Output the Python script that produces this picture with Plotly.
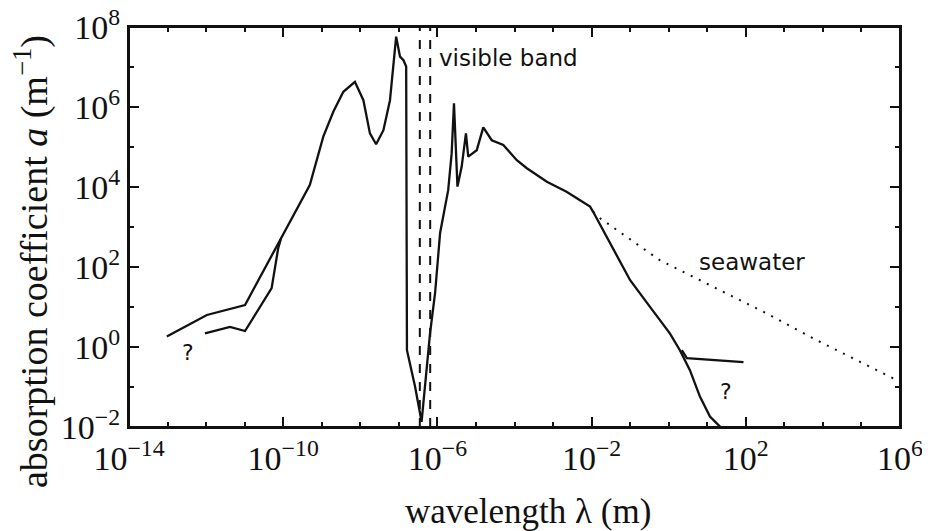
import numpy as np
import plotly.graph_objects as go

# ---- data (log10 values) ----
main_logx = [-13.02, -11.98, -10.99, -10.04, -9.31, -8.96, -8.70, -8.44, -8.14, -7.92,
             -7.75, -7.59, -7.40, -7.23, -7.07, -6.97, -6.88, -6.81, -6.79, -6.58,
             -6.41, -6.19, -6.06, -5.93, -5.85, -5.72, -5.63, -5.57, -5.48, -5.37,
             -5.26, -5.20, -4.98, -4.81, -4.59, -4.29, -3.94, -3.68, -3.16, -2.65,
             -2.30, -2.04, -1.96, -1.52, -1.00, -0.49, 0.03, 0.29, 0.55, 0.81,
             1.07, 1.33, 1.36]
main_logy = [0.26, 0.80, 1.05, 2.73, 4.05, 5.26, 5.88, 6.38, 6.63, 6.17,
             5.34, 5.07, 5.42, 6.17, 7.76, 7.26, 7.17, 7.01, -0.08, -0.99,
             -1.87, 0.35, 1.35, 2.85, 3.26, 3.92, 4.84, 6.09, 4.01, 4.51,
             5.34, 4.76, 4.92, 5.49, 5.17, 5.05, 4.67, 4.47, 4.13, 3.88,
             3.67, 3.51, 3.38, 2.59, 1.67, 1.01, 0.34, -0.08, -0.58, -1.24,
             -1.74, -1.99, -2.0]

lowleft_logx = [-12.03, -11.38, -10.99, -10.30, -10.13, -10.06]
lowleft_logy = [0.34, 0.50, 0.40, 1.47, 2.47, 2.70]

radio_logx = [0.34, 0.47, 1.94]
radio_logy = [-0.08, -0.28, -0.38]

sea_logx = [-1.96, -1.78, -0.23, 0.99, 2.54, 3.84, 5.22, 6.0]
sea_logy = [3.38, 3.22, 2.17, 1.59, 0.84, 0.17, -0.49, -0.87]

visible_band = [3.5e-7, 6.5e-7]   # wavelength limits (m)
y_span = [1e-2, 1e8]

x_major = [1e-14, 1e-10, 1e-6, 1e-2, 1e2, 1e6]
x_major_text = ["10<sup>−14</sup>", "10<sup>−10</sup>", "10<sup>−6</sup>",
                "10<sup>−2</sup>", "10<sup>2</sup>", "10<sup>6</sup>"]
y_major = [1e-2, 1e0, 1e2, 1e4, 1e6, 1e8]
y_major_text = ["10<sup>−2</sup>", "10<sup>0</sup>", "10<sup>2</sup>",
                "10<sup>4</sup>", "10<sup>6</sup>", "10<sup>8</sup>"]
x_minor = [10.0 ** k for k in range(-14, 7)]
y_minor = [10.0 ** k for k in range(-2, 9)]

def p10(a):
    return [10.0 ** v for v in a]

INK = "#111111"
fig = go.Figure()

fig.add_trace(go.Scatter(x=[visible_band[0], visible_band[0]], y=y_span, mode="lines",
                         line=dict(color=INK, width=2, dash="9px,9px"), hoverinfo="skip"))
fig.add_trace(go.Scatter(x=[visible_band[1], visible_band[1]], y=y_span, mode="lines",
                         line=dict(color=INK, width=2, dash="9px,9px"), hoverinfo="skip"))
fig.add_trace(go.Scatter(x=p10(sea_logx), y=p10(sea_logy), mode="lines",
                         line=dict(color=INK, width=2, dash="2px,7px")))
fig.add_trace(go.Scatter(x=p10(main_logx), y=p10(main_logy), mode="lines",
                         line=dict(color=INK, width=2.3)))
fig.add_trace(go.Scatter(x=p10(lowleft_logx), y=p10(lowleft_logy), mode="lines",
                         line=dict(color=INK, width=2.3)))
fig.add_trace(go.Scatter(x=p10(radio_logx), y=p10(radio_logy), mode="lines",
                         line=dict(color=INK, width=2.3)))

serif = "Liberation Serif"
sans = "DejaVu Sans"

axis_common = dict(
    type="log", showgrid=False, zeroline=False, automargin=False,
    showline=True, linecolor=INK, linewidth=2, mirror="ticks",
    ticks="inside", ticklen=10, tickwidth=1.5, tickcolor=INK,
    ticklabeloverflow="allow",
    tickfont=dict(family=serif, size=34, color=INK),
)

# the page body adds an 8px offset; margins are shifted to compensate
fig.update_layout(
    width=930, height=531,
    margin=dict(l=121, r=38, t=19, b=112),
    paper_bgcolor="white", plot_bgcolor="white",
    showlegend=False,
    xaxis=dict(range=[-14, 6], tickmode="array", tickvals=x_major, ticktext=x_major_text,
               minor=dict(tickmode="array", tickvals=x_minor, ticks="inside", ticklen=5,
                          tickwidth=1.5, tickcolor=INK),
               **axis_common),
    yaxis=dict(range=[-2, 8], tickmode="array", tickvals=y_major, ticktext=y_major_text,
               minor=dict(tickmode="array", tickvals=y_minor, ticks="inside", ticklen=5,
                          tickwidth=1.5, tickcolor=INK),
               **axis_common),
    shapes=[dict(type="rect", xref="paper", yref="paper", x0=0, x1=1, y0=0, y1=1,
                 line=dict(color=INK, width=2), fillcolor="rgba(0,0,0,0)", layer="above")],
    annotations=[
        dict(x=-6.01, y=7.22, xref="x", yref="y", text="visible band", showarrow=False,
             xanchor="left", yanchor="middle", font=dict(family=sans, size=23, color=INK)),
        dict(x=0.73, y=2.13, xref="x", yref="y", text="seawater", showarrow=False,
             xanchor="left", yanchor="middle", font=dict(family=sans, size=23, color=INK)),
        dict(x=-12.47, y=-0.13, xref="x", yref="y", text="?", showarrow=False,
             xanchor="center", yanchor="middle", font=dict(family=sans, size=22, color=INK)),
        dict(x=1.49, y=-1.1, xref="x", yref="y", text="?", showarrow=False,
             xanchor="center", yanchor="middle", font=dict(family=sans, size=22, color=INK)),
        dict(x=(528 - 129) / 771, y=-(512 - 427) / 400, xref="paper", yref="paper",
             text="wavelength λ (m)", showarrow=False, xanchor="center", yanchor="middle",
             font=dict(family=serif, size=35, color=INK)),
        dict(x=(23 - 121) / 771, y=(427 - 262) / 400, xref="paper", yref="paper",
             text="absorption coefficient <i>a</i> (m<sup>−1</sup>)", showarrow=False,
             textangle=-90, xanchor="center", yanchor="middle",
             font=dict(family=serif, size=38, color=INK)),
    ],
)

fig.write_html("out.html")
